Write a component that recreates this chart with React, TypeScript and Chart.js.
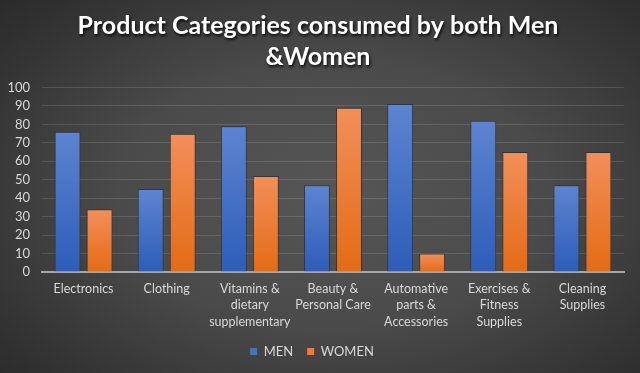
import React, { useEffect, useRef } from "react";
import { Chart, registerables } from "chart.js";

Chart.register(...registerables);

const categories: string[][] = [
  ["Electronics"],
  ["Clothing"],
  ["Vitamins &", "dietary", "supplementary"],
  ["Beauty &", "Personal Care"],
  ["Automative", "parts &", "Accessories"],
  ["Exercises &", "Fitness", "Supplies"],
  ["Cleaning", "Supplies"],
];
const menValues = [76, 45, 79, 47, 91, 82, 47];
const womenValues = [34, 75, 52, 89, 10, 65, 65];
const titleLines = ["Product Categories consumed by both Men", "&Women"];
const seriesNames = ["MEN", "WOMEN"];

const FONT = "Lato, 'Open Sans', sans-serif";

function barGradient(top: string, bottom: string, flat: string) {
  return (ctx: any) => {
    const chart = ctx.chart;
    const area = chart.chartArea;
    if (!area || ctx.type !== "data" || !chart.scales.y) return flat;
    const y = chart.scales.y;
    const t = y.getPixelForValue(ctx.raw);
    const b = y.getPixelForValue(0);
    if (!isFinite(t) || !isFinite(b) || b - t < 1) return flat;
    const g = chart.ctx.createLinearGradient(0, t, 0, b);
    g.addColorStop(0, top);
    g.addColorStop(1, bottom);
    return g;
  };
}

const titleShadow = {
  id: "titleShadow",
  beforeDraw(chart: any) {
    const tb = chart.titleBlock;
    if (tb && !tb.__patched) {
      const orig = tb.draw.bind(tb);
      tb.draw = (...args: any[]) => {
        const c = chart.ctx;
        c.save();
        c.translate(6, 0);
        c.shadowColor = "rgba(0,0,0,0.85)";
        c.shadowBlur = 3;
        c.shadowOffsetX = 1;
        c.shadowOffsetY = 2;
        orig(...args);
        c.restore();
      };
      tb.__patched = true;
    }
  },
};

export default function App() {
  const ref = useRef<HTMLCanvasElement | null>(null);
  useEffect(() => {
    if (!ref.current) return;
    const chart = new Chart(ref.current, {
      type: "bar",
      data: {
        labels: categories,
        datasets: [
          {
            label: seriesNames[0],
            data: menValues,
            backgroundColor: barGradient("#5d84d0", "#2d5db8", "#4472c4"),
            borderColor: "rgba(25,35,45,0.55)",
            borderWidth: 1,
            borderSkipped: "bottom",
            categoryPercentage: 0.77,
            barPercentage: 0.81,
          },
          {
            label: seriesNames[1],
            data: womenValues,
            backgroundColor: barGradient("#f28f5a", "#e46b15", "#ed7d31"),
            borderColor: "rgba(25,35,45,0.55)",
            borderWidth: 1,
            borderSkipped: "bottom",
            categoryPercentage: 0.77,
            barPercentage: 0.81,
          },
        ],
      },
      options: {
        responsive: false,
        animation: false,
        layout: { padding: { left: 0, right: 16, top: 0, bottom: 5 } },
        plugins: {
          title: {
            display: true,
            text: titleLines,
            color: "#ffffff",
            font: { family: FONT, size: 25, weight: "bold", lineHeight: 1.25 },
            padding: { top: 10, bottom: 15 },
          },
          legend: {
            position: "bottom",
            labels: {
              boxWidth: 7,
              boxHeight: 7,
              padding: 14,
              color: "#d9d9d9",
              font: { family: FONT, size: 13 },
              useBorderRadius: false,
              generateLabels: (ch: any) =>
                ch.data.datasets.map((d: any, i: number) => ({
                  text: d.label,
                  fillStyle: i === 0 ? "#4472c4" : "#ed7d31",
                  strokeStyle: i === 0 ? "#4472c4" : "#ed7d31",
                  lineWidth: 0,
                  fontColor: "#d9d9d9",
                  datasetIndex: i,
                  hidden: false,
                })),
            },
          },
          tooltip: { enabled: false },
        },
        scales: {
          x: {
            afterFit: (s: any) => {
              s.height = 59;
            },
            grid: { display: false, drawTicks: false },
            border: { display: true, color: "#a6a6a6", width: 2 },
            ticks: {
              color: "#d9d9d9",
              font: { family: FONT, size: 12.5, lineHeight: 1.3 },
              padding: 9,
              maxRotation: 0,
              autoSkip: false,
            },
          },
          y: {
            min: 0,
            max: 100,
            afterFit: (s: any) => {
              s.width = 42;
            },
            grid: {
              drawTicks: false,
              color: "rgba(255,255,255,0.13)",
              lineWidth: 1,
            },
            border: { display: false },
            ticks: {
              stepSize: 10,
              autoSkip: false,
              color: "#d9d9d9",
              font: { family: FONT, size: 13 },
              padding: 12,
            },
          },
        },
      },
      plugins: [titleShadow],
    });
    return () => chart.destroy();
  }, []);

  return (
    <div
      style={{
        position: "fixed",
        left: 0,
        top: 0,
        width: 640,
        height: 373,
        background:
          "radial-gradient(ellipse 75% 80% at 52% 52%, #565656 0%, #4a4a4a 45%, #333333 80%, #282828 100%)",
      }}
    >
      <canvas ref={ref} width={640} height={373} style={{ display: "block" }} />
    </div>
  );
}
